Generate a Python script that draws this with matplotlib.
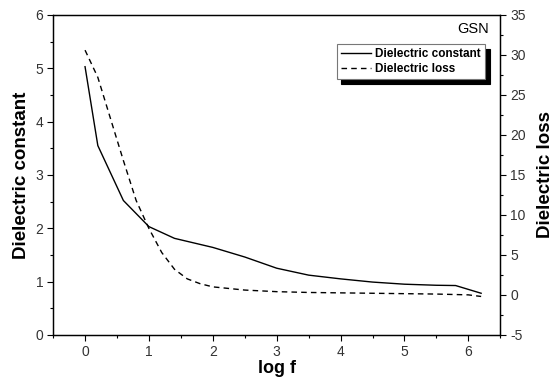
import numpy as np
import matplotlib.pyplot as plt
from matplotlib.ticker import MultipleLocator

plt.rcParams['font.family'] = ['Liberation Sans', 'DejaVu Sans']
plt.rcParams['axes.unicode_minus'] = False

# dielectric constant (left axis)
logf_const = [0.0, 0.2, 0.6, 1.0, 1.4, 2.0, 2.5, 3.0, 3.5, 4.0, 4.5, 5.0, 5.5, 5.8, 6.2]
eps_const = [5.03, 3.55, 2.52, 2.03, 1.81, 1.64, 1.46, 1.25, 1.12, 1.05, 0.99, 0.95, 0.93, 0.925, 0.78]

# dielectric loss (right axis)
logf_loss = [0.0, 0.2, 0.4, 0.6, 0.8, 1.0, 1.2, 1.4, 1.6, 1.8, 2.0, 2.5, 3.0, 3.5, 4.0, 4.5, 5.0, 5.5, 6.0, 6.2]
eps_loss = [30.6, 27.2, 22.0, 16.8, 11.8, 8.3, 5.3, 3.2, 2.0, 1.4, 1.0, 0.6, 0.4, 0.3, 0.25, 0.2, 0.15, 0.1, 0.0, -0.2]

fig = plt.figure(figsize=(5.59, 3.84), dpi=100)
ax = fig.add_axes([0.095, 0.128, 0.80, 0.833])
ax2 = ax.twinx()

l1, = ax.plot(logf_const, eps_const, color='black', lw=1.0, label='Dielectric constant')
l2, = ax2.plot(logf_loss, eps_loss, color='black', lw=1.0, ls=(0, (4, 3)), label='Dielectric loss')

ax.set_xlim(-0.5, 6.5)
ax.set_ylim(0, 6)
ax2.set_ylim(-5, 35)

ax.xaxis.set_major_locator(MultipleLocator(1))
ax.xaxis.set_minor_locator(MultipleLocator(0.5))
ax.yaxis.set_major_locator(MultipleLocator(1))
ax.yaxis.set_minor_locator(MultipleLocator(0.5))
ax2.yaxis.set_major_locator(MultipleLocator(5))
ax2.yaxis.set_minor_locator(MultipleLocator(2.5))

for a in (ax, ax2):
    a.tick_params(which='major', length=4, width=0.8, labelsize=10, labelcolor='#333333', direction='out', pad=3)
    a.tick_params(which='minor', length=2.5, width=0.8, direction='out')
    for s in a.spines.values():
        s.set_linewidth(0.9)

ax.set_xlabel('log f', fontsize=13, fontweight='bold', labelpad=1)
ax.set_ylabel('Dielectric constant', fontsize=13.5, fontweight='bold', labelpad=4)
ax2.set_ylabel('Dielectric loss', fontsize=13.5, fontweight='bold', labelpad=8)

ax.text(0.975, 0.955, 'GSN', transform=ax.transAxes, ha='right', va='center', fontsize=10.5)

leg = ax.legend(handles=[l1, l2], loc='upper right', bbox_to_anchor=(0.965, 0.91),
                prop={'weight': 'bold', 'size': 8.5}, frameon=True, fancybox=False,
                shadow={'color': 'black', 'alpha': 1, 'ox': 3.5, 'oy': -3.5},
                handlelength=2.6, handletextpad=0.3,
                borderpad=0.35, labelspacing=0.25, borderaxespad=0)
leg.get_frame().set_edgecolor('#777777')
leg.get_frame().set_linewidth(0.8)

plt.savefig('out.png', dpi=100)
